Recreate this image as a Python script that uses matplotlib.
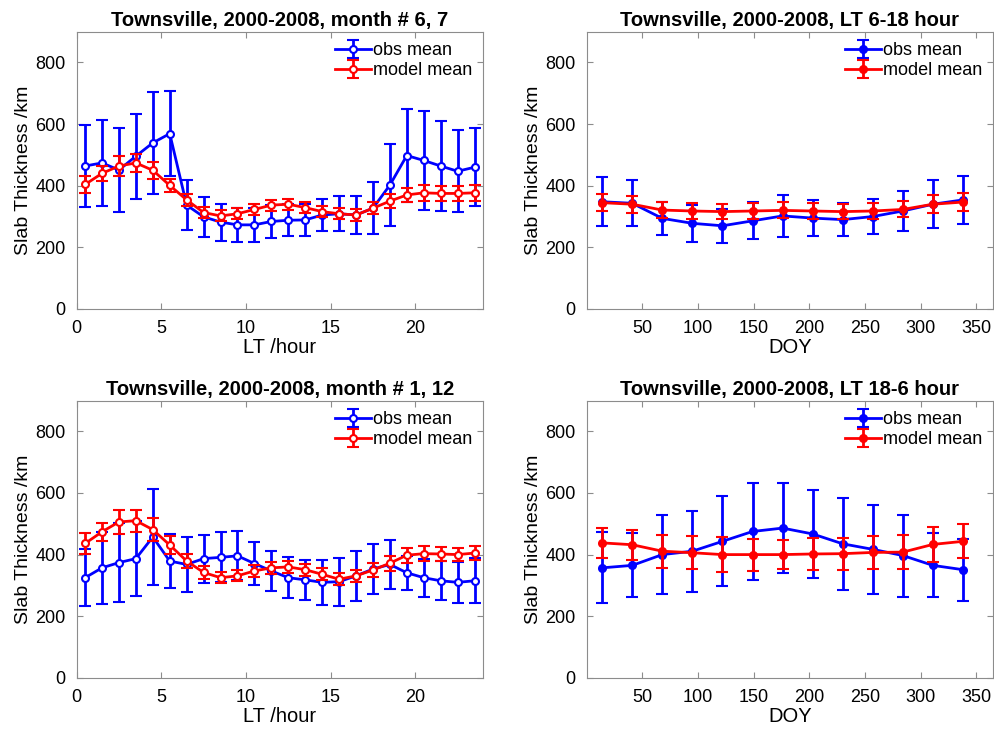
import numpy as np
import matplotlib
matplotlib.use("Agg")
import matplotlib.pyplot as plt

plt.rcParams["font.family"] = ["Liberation Sans", "DejaVu Sans"]

# --- data ---------------------------------------------------------------------
lt_hours = np.arange(0.5, 24, 1.0)
doy_bins = [14, 41, 68, 95, 122, 149, 176, 203, 230, 257, 284, 311, 338]

# month 6, 7 (diurnal)
obs_jj = [464, 474, 451, 496, 539, 569, 337, 299, 282, 273, 273, 284,
          288, 289, 305, 309, 305, 327, 402, 498, 482, 464, 447, 460]
obs_jj_std = [132, 140, 135, 138, 166, 137, 82, 66, 60, 56, 56, 55,
              52, 51, 52, 57, 63, 84, 132, 151, 162, 145, 133, 127]
mod_jj = [404, 440, 464, 474, 450, 401, 354, 313, 302, 309, 323, 337,
          340, 329, 316, 309, 305, 327, 350, 370, 377, 375, 375, 377]
mod_jj_std = [27, 25, 32, 30, 28, 20, 20, 18, 18, 18, 18, 18,
              18, 18, 18, 18, 18, 20, 22, 24, 25, 25, 25, 25]

# month 1, 12 (diurnal)
obs_dj = [325, 357, 374, 387, 457, 379, 368, 387, 391, 396, 371, 347,
          325, 318, 310, 312, 331, 353, 368, 341, 325, 315, 310, 315]
obs_dj_std = [93, 117, 127, 121, 157, 89, 90, 78, 81, 80, 71, 64,
              67, 66, 73, 78, 81, 82, 79, 55, 62, 63, 66, 73]
mod_dj = [436, 474, 506, 510, 481, 431, 379, 342, 325, 331, 347, 357,
          360, 351, 336, 320, 331, 350, 372, 398, 403, 402, 400, 405]
mod_dj_std = [33, 30, 39, 36, 38, 28, 24, 20, 18, 18, 20, 20,
              20, 20, 20, 20, 20, 22, 24, 24, 25, 22, 22, 24]

# LT 6-18 hour (seasonal)
obs_day = [348, 343, 294, 278, 270, 286, 302, 295, 290, 300, 318, 340, 354]
obs_day_std = [79, 75, 54, 61, 55, 60, 67, 58, 53, 57, 65, 77, 79]
mod_day = [345, 340, 321, 318, 316, 318, 320, 318, 316, 318, 323, 340, 347]
mod_day_std = [28, 28, 26, 25, 24, 25, 26, 25, 24, 25, 26, 30, 30]

# LT 18-6 hour (seasonal)
obs_night = [357, 365, 400, 411, 443, 475, 486, 467, 435, 417, 397, 365, 351]
obs_night_std = [115, 104, 127, 132, 146, 157, 147, 144, 150, 145, 133, 104, 100]
mod_night = [438, 432, 411, 406, 400, 400, 400, 402, 403, 407, 408, 433, 443]
mod_night_std = [48, 49, 53, 53, 57, 52, 47, 53, 52, 54, 55, 57, 55]

TITLE = "Townsville, 2000-2008, "
SPINE = "#8c8c8c"


def draw_panel(ax, x, obs, obs_std, mod, mod_std, title, xlabel, xlim,
               xticks, hollow):
    face_b = "white" if hollow else "blue"
    face_r = "white" if hollow else "red"
    ax.errorbar(x, obs, yerr=obs_std, color="blue", lw=2, elinewidth=2,
                capsize=4, capthick=2, marker="o", ms=5, mec="blue",
                mfc=face_b, mew=1.5, label="obs mean", zorder=3)
    ax.errorbar(x, mod, yerr=mod_std, color="red", lw=2, elinewidth=2,
                capsize=4, capthick=2, marker="o", ms=5, mec="red",
                mfc=face_r, mew=1.5, label="model mean", zorder=4)
    ax.set_xlim(*xlim)
    ax.set_ylim(0, 900)
    ax.set_xticks(xticks)
    ax.set_yticks([0, 200, 400, 600, 800])
    ax.set_title(title, fontsize=14.5, fontweight="bold", pad=4)
    ax.set_xlabel(xlabel, fontsize=14.5, labelpad=1)
    ax.set_ylabel("Slab Thickness /km", fontsize=14, labelpad=2)
    ax.tick_params(direction="in", top=True, right=True, labelsize=13,
                   color=SPINE, length=4)
    ax.tick_params(axis="x", pad=8)
    ax.tick_params(axis="y", pad=8)
    for s in ax.spines.values():
        s.set_color(SPINE)
    leg = ax.legend(loc="upper right", frameon=False, fontsize=13,
                    handlelength=2.0, handletextpad=0.1, borderaxespad=0.2,
                    labelspacing=0.15)
    return leg


fig, axes = plt.subplots(2, 2, figsize=(9.95, 7.36), dpi=100)
plt.subplots_adjust(left=0.077, right=0.998, top=0.957, bottom=0.079,
                    wspace=0.255, hspace=0.33)

draw_panel(axes[0, 0], lt_hours, obs_jj, obs_jj_std, mod_jj, mod_jj_std,
           TITLE + "month # 6, 7", "LT /hour", (0, 24), [0, 5, 10, 15, 20], True)
draw_panel(axes[0, 1], doy_bins, obs_day, obs_day_std, mod_day, mod_day_std,
           TITLE + "LT 6-18 hour", "DOY", (0, 365),
           [50, 100, 150, 200, 250, 300, 350], False)
draw_panel(axes[1, 0], lt_hours, obs_dj, obs_dj_std, mod_dj, mod_dj_std,
           TITLE + "month # 1, 12", "LT /hour", (0, 24), [0, 5, 10, 15, 20], True)
draw_panel(axes[1, 1], doy_bins, obs_night, obs_night_std, mod_night,
           mod_night_std, TITLE + "LT 18-6 hour", "DOY", (0, 365),
           [50, 100, 150, 200, 250, 300, 350], False)

plt.savefig("out.png", dpi=100)
